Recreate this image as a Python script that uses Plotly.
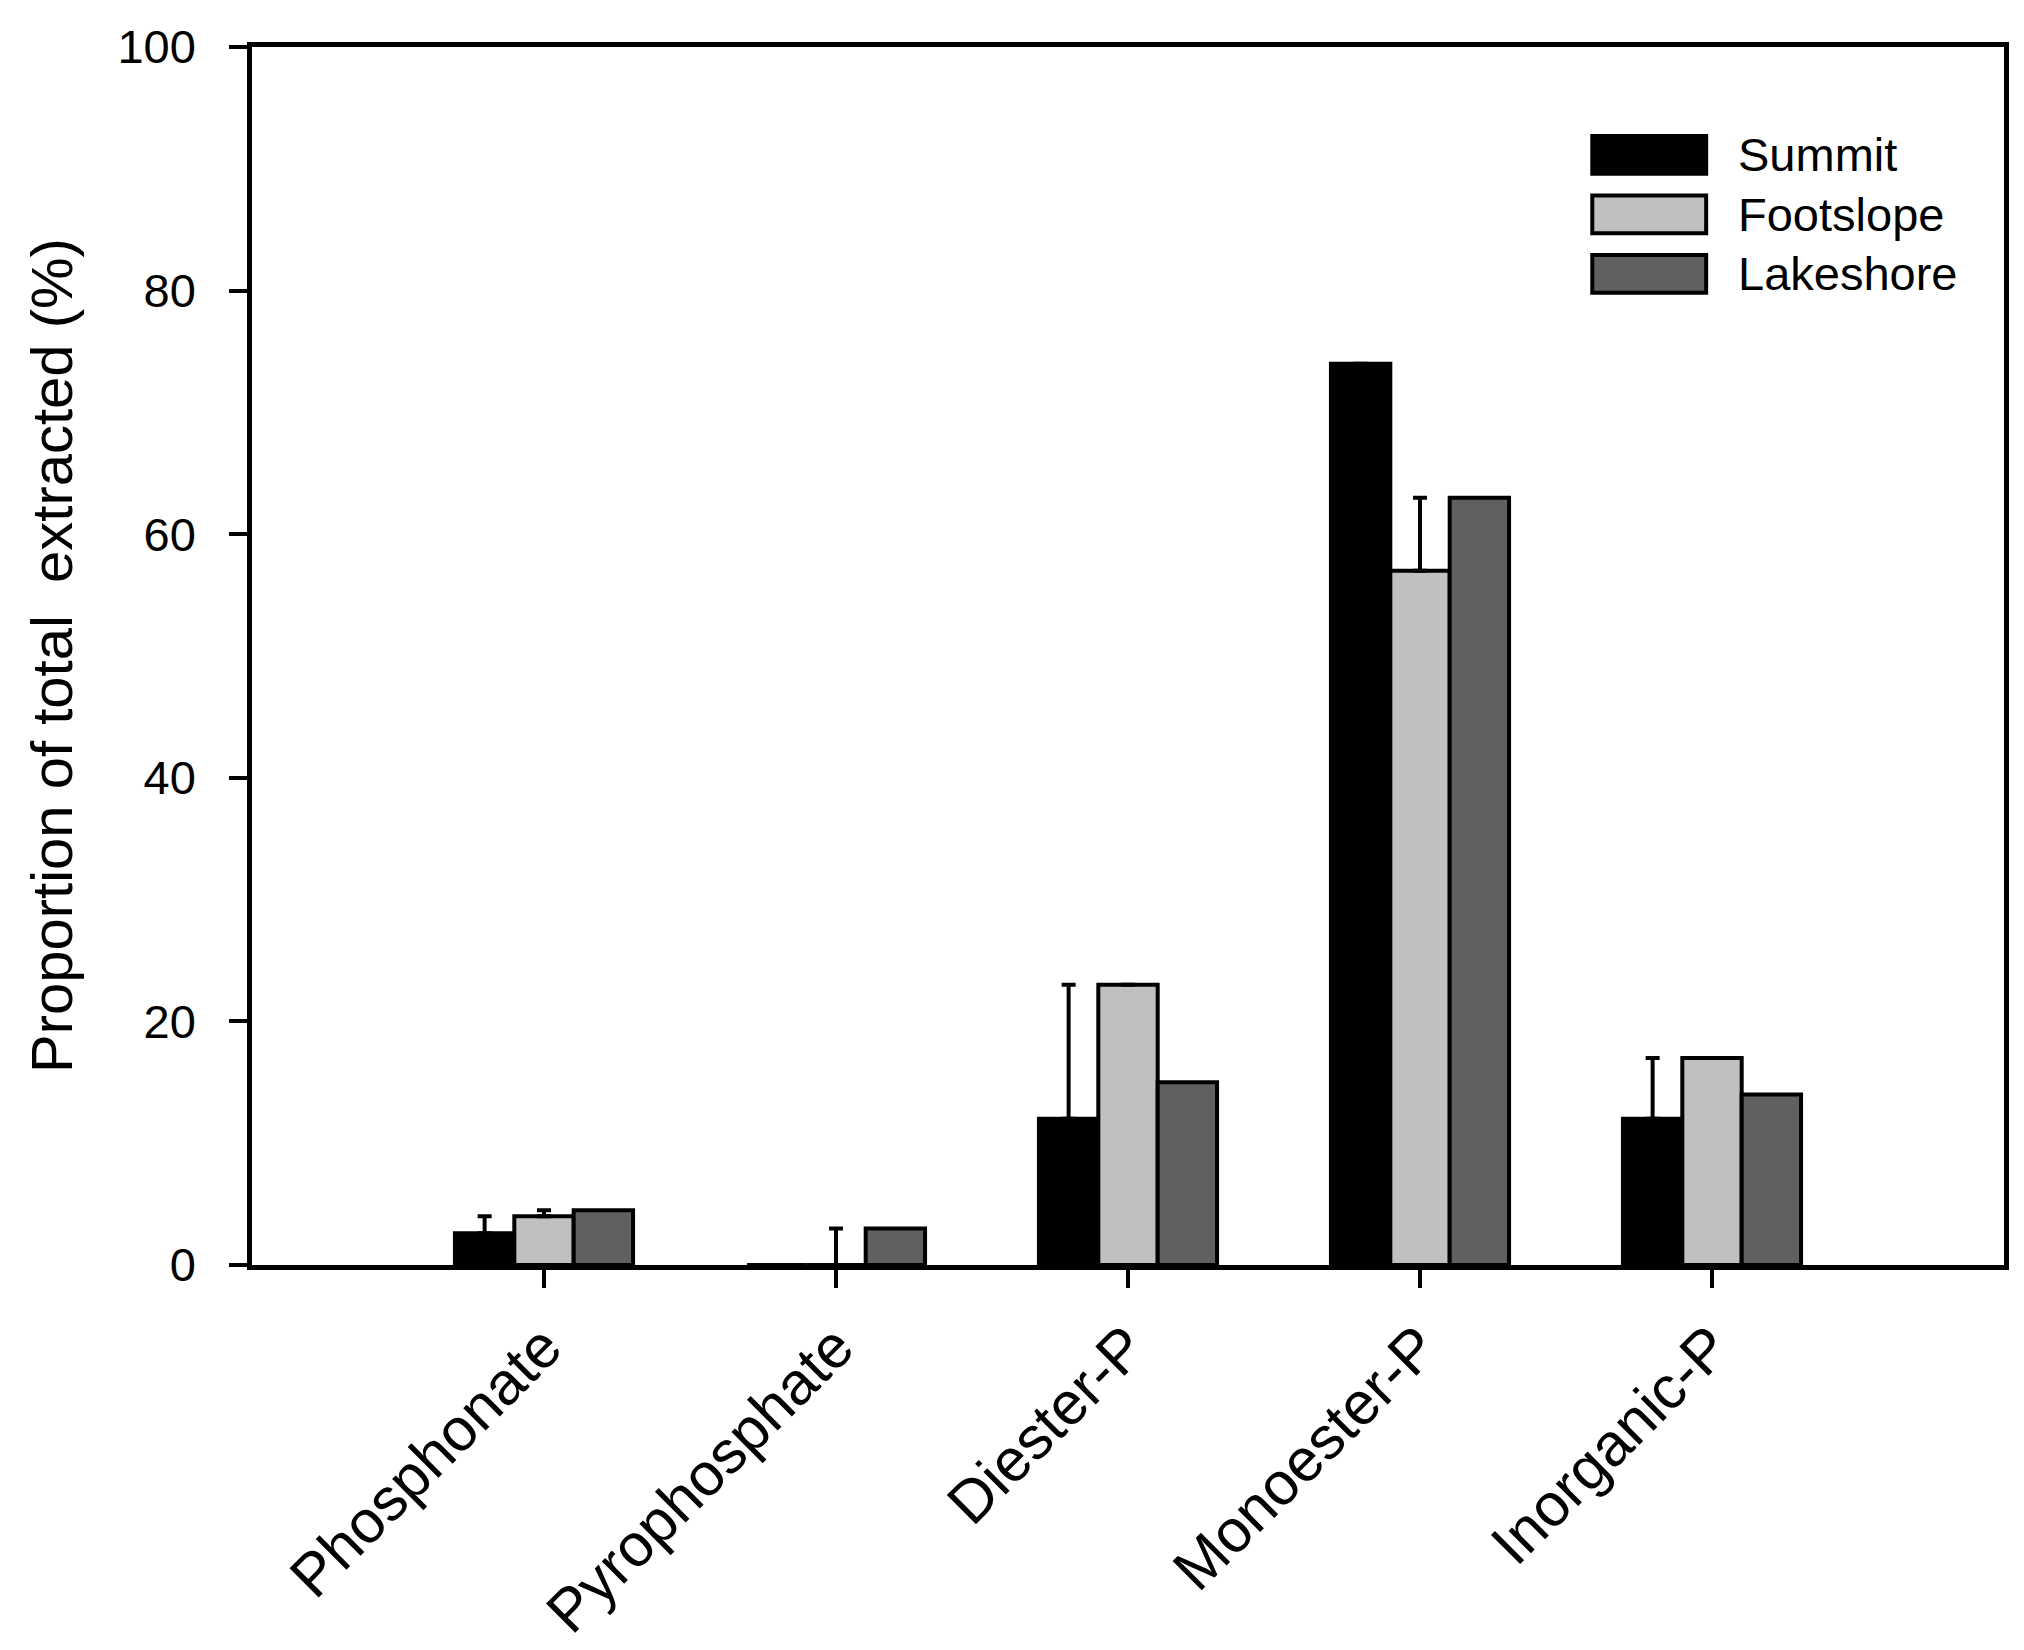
import plotly.graph_objects as go

# data
categories = ["Phosphonate", "Pyrophosphate", "Diester-P", "Monoester-P", "Inorganic-P"]
series_names = ["Summit", "Footslope", "Lakeshore"]

summit = [2.6, 0, 12, 74, 12]
footslope = [4.0, 0, 23, 57, 17]
lakeshore = [4.5, 3.0, 15, 63, 14]

summit_err = [1.4, 0, 11, 0, 5]
footslope_err = [0.5, 3.0, 0, 6, 0]
lakeshore_err = [0, 0, 0, 0, 0]

y_ticks = [0, 20, 40, 60, 80, 100]

colors = ["#000000", "#C0C0C0", "#606060"]
font_family = "Liberation Sans, Arial, sans-serif"

fig = go.Figure()

values = [summit, footslope, lakeshore]
errors = [summit_err, footslope_err, lakeshore_err]

for name, vals, err, col in zip(series_names, values, errors, colors):
    fig.add_trace(go.Bar(
        x=categories,
        y=vals,
        name=name,
        marker=dict(color=col, line=dict(color="black", width=4)),
        error_y=dict(
            type="data",
            symmetric=False,
            array=err,
            arrayminus=[0] * len(err),
            color="black",
            thickness=4,
            width=7,
            visible=any(e > 0 for e in err),
        ),
    ))

# legend drawn by hand (big swatches like the original)
for i, (name, col) in enumerate(zip(series_names, colors)):
    y_top = 0.927 - i * 0.0489
    fig.add_shape(
        type="rect", xref="paper", yref="paper",
        x0=0.765, x1=0.830, y0=y_top - 0.031, y1=y_top,
        fillcolor=col, line=dict(color="black", width=4),
    )
    fig.add_annotation(
        xref="paper", yref="paper", x=0.847, y=y_top - 0.0155,
        text=name, showarrow=False, xanchor="left", yanchor="middle",
        font=dict(family=font_family, size=47, color="black"),
    )

# y axis title
fig.add_annotation(
    xref="paper", yref="paper", x=0, y=0.5,
    text="Proportion of total&nbsp; extracted (%)",
    textangle=-90, showarrow=False, xanchor="center", yanchor="middle",
    xshift=-201,
    font=dict(family=font_family, size=58, color="black"),
)

fig.update_layout(
    width=2024,
    height=1650,
    margin=dict(l=244, r=28, t=38, b=365),
    barmode="group",
    bargap=0.39,
    bargroupgap=0,
    showlegend=False,
    plot_bgcolor="white",
    paper_bgcolor="white",
    font=dict(family=font_family, color="black"),
)

fig.update_xaxes(
    range=[-1, 5],
    showline=True, linewidth=4.5, linecolor="black", mirror=True,
    ticks="outside", ticklen=18, tickwidth=4, tickcolor="black",
    tickangle=-45,
    tickfont=dict(family=font_family, size=60, color="black"),
    showgrid=False, zeroline=False,
)

fig.update_yaxes(
    range=[0, 100],
    tickvals=y_ticks,
    showline=True, linewidth=4.5, linecolor="black", mirror=True,
    ticks="outside", ticklen=18, tickwidth=4, tickcolor="black",
    tickfont=dict(family=font_family, size=47, color="black"),
    ticklabelstandoff=24,
    showgrid=False, zeroline=False,
)

fig.write_html("out.html")
